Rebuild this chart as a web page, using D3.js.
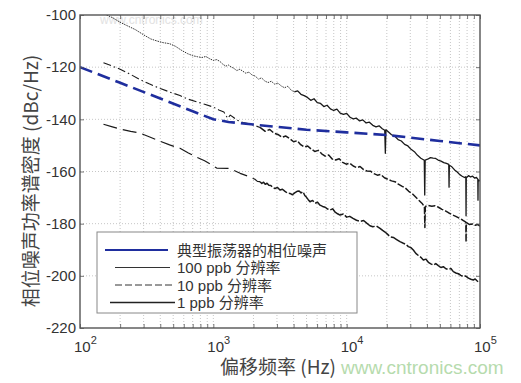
<!DOCTYPE html>
<html><head><meta charset="utf-8">
<script src="https://cdn.jsdelivr.net/npm/d3@7"></script>
<style>body{margin:0;background:#fff;} svg{display:block;}</style>
</head><body><svg id="c" width="521" height="383"></svg>
<script>
// ---- data ----
const xTickValues = [100, 1000, 10000, 100000];
const xTickExponents = ["2", "3", "4", "5"];
const yTickValues = [-100, -120, -140, -160, -180, -200, -220];
const seriesNames = ["典型振荡器的相位噪声", "100 ppb 分辨率", "10 ppb 分辨率", "1 ppb 分辨率"];
const xAxisTitle = "偏移频率 (Hz)";
const yAxisTitle = "相位噪声功率谱密度 (dBc/Hz)";

const oscFreq = [100, 200, 400, 700, 1000, 1300, 2000, 5000, 10000, 20000, 50000, 100000];
const oscVal  = [-120, -126, -132, -136.9, -140, -141, -142, -144, -145, -146, -148.3, -150];

const ppb100Freq = [158,175,200,230,260,300,340,380,420,470,520,580,640,700,760,820,880,940,1000,1060,1120,1180,1240,1300,1360,1420,1500,1580,1660,1750,1850,1950,2060,2180,2300,2430,2570,2720,2880,3050,3230,3420,3620,3830,4050,4290,4540,4800,5080,5380,5690,6020,6370,6740,7130,7550,7990,8450,8940,9460,10000,10600,11200,11800,12500,13200,14000,14800,15700,16600,17500,18500,19300,19500,19700,20500,21700,23000,24300,25700,27200,28800,30400,32200,34000,36000,38200,38500,38800,40500,42500,44500,46500,48500,51000,53500,56000,58300,58600,58900,61500,64500,67500,70500,73500,76500,78300,78600,78900,82000,85000,88000,91000,94000,96300,96600,96900,100000];
const ppb100Val  = [-100,-101,-102.8,-104.3,-105.6,-107.6,-109.2,-110,-110.6,-111,-112,-113.6,-114.8,-115.6,-116,-116.3,-115.9,-116.8,-117.4,-117.1,-117.8,-118.9,-119.6,-119.2,-119.9,-120.4,-121.3,-120.8,-121.5,-122.3,-121.9,-123,-123.4,-124.6,-124.1,-125.3,-125.9,-125.4,-126.5,-126.1,-127.2,-127.9,-127.3,-128.8,-129.5,-129.1,-130.4,-130.9,-131.6,-132.7,-132.1,-133.6,-133.9,-135.1,-134.6,-136,-136.6,-136.1,-137.6,-138.1,-137.7,-139.2,-139.8,-139.5,-140.6,-140.2,-141.4,-141.1,-142.3,-142.9,-142.5,-143.6,-144.2,-153,-144,-144.8,-145.9,-146.5,-147.8,-148.3,-149.6,-150.2,-151.5,-152.4,-153.8,-154.9,-155.7,-169,-155.6,-155.3,-154.7,-154.9,-155,-155.6,-156,-156.6,-156.9,-157.3,-166,-157.6,-158.2,-159.4,-160.2,-161.2,-161.8,-162.3,-162,-177,-162.4,-161.6,-162.1,-161.8,-162.5,-162.3,-162.9,-171,-163.2,-163.6];

const ppb10Freq = [150,175,200,240,282,330,400,470,562,650,750,860,1000,1100,1200,1280,1340,1420,1520,1670,1820,2000,2240,2450,2650,2850,3050,3280,3500,3760,4000,4250,4520,4800,5100,5420,5760,6120,6500,6900,7330,7790,8270,8790,9340,9920,10540,11200,11900,12600,13400,14200,15100,16000,17000,18000,19200,20400,21700,23000,24400,25900,27500,29200,31000,32900,34900,37000,38300,38600,38900,41000,43500,46000,48800,51800,55000,58400,62000,65800,69800,74000,78300,78600,78900,83000,87500,92000,96000,100000];
const ppb10Val  = [-118.3,-119.6,-120.8,-122.8,-124.8,-126.4,-128.2,-129.5,-130.9,-132.3,-133.3,-134.2,-135.3,-136.4,-137.2,-139.6,-138.4,-139.3,-140.4,-141.2,-141.6,-142.2,-143.1,-144.6,-143.9,-145.3,-145.8,-146.9,-146.4,-147.5,-148.6,-148.2,-149.7,-150.6,-150.2,-151.4,-152.3,-151.9,-153.2,-154.1,-153.7,-155.2,-155.6,-155.1,-156.5,-157.2,-156.8,-157.9,-158.5,-158.1,-159.3,-159.8,-159.9,-160.8,-161.4,-161.1,-162.4,-163,-163.6,-163.9,-164.8,-165.6,-166.3,-167.6,-168.5,-169.8,-171.1,-172.4,-173.5,-181.5,-173.4,-173,-173.3,-173.1,-173.7,-174.5,-175.1,-175.9,-176.6,-177.2,-177.9,-178.6,-179.4,-187,-179.6,-180.3,-180.1,-180.6,-180.3,-180.9];

const ppb1Freq = [150,175,200,240,282,330,400,470,562,650,750,860,960,1060,1290,1400,1500,1590,1750,1900,2050,2140,2240,2310,2380,2450,2527,2610,2700,2800,2900,3030,3162,3300,3450,3600,3758,3920,4100,4250,4400,4550,4705,4850,5000,5150,5309,5550,5800,6050,6310,6600,6900,7200,7499,7850,8200,8550,8913,9450,10000,10550,11156,11850,12600,13400,14212,14950,15700,16700,17783,18600,19400,20300,21135,22400,23700,25100,26607,27800,29000,30300,31623,33000,34500,36000,37584,39300,41000,42800,44668,46600,48700,50900,53088,55500,57900,60500,63096,65900,68800,71800,74989,78300,81800,85400,89125,92000,94500,97200,100000];
const ppb1Val  = [-141.9,-142.9,-143.7,-144.6,-145.3,-146.7,-148.4,-149.8,-151.1,-152.9,-154.5,-155.9,-157.3,-158.7,-158.8,-159.4,-160.1,-160.7,-161.5,-162.2,-163,-163.8,-163.9,-164.6,-164.1,-164.9,-164.5,-165.3,-165.4,-166.2,-166.5,-166.1,-167.1,-166.8,-167.6,-168.3,-168.4,-168.9,-168.1,-167.6,-167.5,-168.2,-167.7,-169.2,-169.9,-170.8,-171.6,-171.1,-172.2,-171.8,-172.9,-173.4,-173.7,-174.4,-174.8,-174.3,-175.6,-176.2,-176.7,-176.3,-177.5,-177.2,-178,-178.7,-179.1,-178.8,-179.9,-180.8,-181.2,-180.9,-181.8,-182.6,-183.2,-184.1,-185,-185.3,-186.1,-186.9,-187.5,-187.9,-188.8,-189.2,-190.1,-191.4,-192.2,-192.9,-193.9,-193.6,-194.8,-195.4,-195.9,-195.3,-196.1,-196.8,-196.5,-197.3,-197.6,-197.2,-198.4,-198.9,-199.2,-199.8,-200.3,-200.1,-200.9,-201.3,-201.6,-201.2,-201.8,-202.4,-202.3];

// ---- drawing ----
(function () {
const svg = d3.select("#c");
const L = 80, R = 480, T = 15, B = 328;
const x = d3.scaleLog().domain([100, 100000]).range([L, R]);
const y = d3.scaleLinear().domain([-220, -100]).range([B, T]);

svg.append("rect").attr("width", 521).attr("height", 383).attr("fill", "#fff");

// faint watermark top
svg.append("text").attr("x", 100).attr("y", 24).attr("font-family", "Liberation Sans, Arial").attr("font-size", 12)
  .attr("fill", "#e2e2e2").text("www.cntronics.com");

const grid = svg.append("g");
grid.selectAll("line.v").data(x.ticks().filter(d => d > 100 && d < 100000)).join("line")
  .attr("x1", d => x(d)).attr("x2", d => x(d)).attr("y1", T).attr("y2", B)
  .attr("stroke", "#b8b8b8").attr("stroke-width", 0.8).attr("stroke-dasharray", "1,2");
grid.selectAll("line.h").data(yTickValues.filter(d => d > -220 && d < -100)).join("line")
  .attr("x1", L).attr("x2", R).attr("y1", d => y(d)).attr("y2", d => y(d))
  .attr("stroke", "#b8b8b8").attr("stroke-width", 0.8).attr("stroke-dasharray", "1,2");

svg.append("clipPath").attr("id", "clip").append("rect").attr("x", L).attr("y", T).attr("width", R - L).attr("height", B - T);
const plot = svg.append("g").attr("clip-path", "url(#clip)");

const line = d3.line().x(d => x(d[0])).y(d => y(d[1]));
function zipS(f, v) { return f.map((d, i) => [d, v[i]]); }
function draw(data, col, w, dash) {
  plot.append("path").datum(data).attr("d", line).attr("fill", "none")
    .attr("stroke", col).attr("stroke-width", w).attr("stroke-dasharray", dash)
    .attr("stroke-linejoin", "round");
}
const s100 = zipS(ppb100Freq, ppb100Val);
const s10 = zipS(ppb10Freq, ppb10Val);
const s1 = zipS(ppb1Freq, ppb1Val);

draw(s100.filter(d => d[0] <= 4100), "#1a1a1a", 0.9, "1.5,1");
draw(s100.filter(d => d[0] >= 4000), "#1a1a1a", 1.3, null);
draw(s10.filter(d => d[0] <= 2300), "#1a1a1a", 1.1, "8,3,1.5,3");
draw(s10.filter(d => d[0] >= 2240), "#1a1a1a", 1.5, "7,2");
draw(s1.filter(d => d[0] <= 2300), "#1a1a1a", 1.2, "14,6");
draw(s1.filter(d => d[0] >= 2240), "#1a1a1a", 1.5, "16,2");
draw(zipS(oscFreq, oscVal), "#1f2e9e", 2.6, "13,6");

// axes frame and ticks
const axCol = "#555";
const gB = svg.append("g").attr("transform", `translate(0,${B})`)
  .call(d3.axisBottom(x).tickValues(x.ticks()).tickSize(-4).tickFormat(""));
const gT = svg.append("g").attr("transform", `translate(0,${T})`)
  .call(d3.axisTop(x).tickValues(x.ticks()).tickSize(-4).tickFormat(""));
const gL = svg.append("g").attr("transform", `translate(${L},0)`)
  .call(d3.axisLeft(y).tickValues(yTickValues).tickSize(-4).tickPadding(8).tickFormat(d => d));
const gR = svg.append("g").attr("transform", `translate(${R},0)`)
  .call(d3.axisRight(y).tickValues(yTickValues).tickSize(-4).tickFormat(""));
[gB, gT, gL, gR].forEach(g => {
  g.select(".domain").remove();
  g.selectAll(".tick line").attr("stroke", axCol).attr("stroke-width", 0.8);
});
gL.selectAll(".tick text").attr("font-family", "Liberation Sans, Arial").attr("font-size", 15)
  .attr("fill", "#333").attr("x", -4);
svg.append("rect").attr("x", L).attr("y", T).attr("width", R - L).attr("height", B - T)
  .attr("fill", "none").attr("stroke", axCol).attr("stroke-width", 1.4);

// x tick labels with superscripts
const xl = svg.append("g").attr("font-family", "Liberation Sans, Arial").attr("fill", "#333");
xTickValues.forEach((v, i) => {
  const t = xl.append("text").attr("x", x(v) - 6).attr("y", 352).attr("font-size", 15);
  t.append("tspan").text("10");
  t.append("tspan").attr("dy", -8).attr("font-size", 11).text(xTickExponents[i]);
});

// axis titles
svg.append("text").attr("x", 220).attr("y", 374).attr("font-size", 19)
  .attr("font-family", "Noto Sans CJK SC, Liberation Sans").attr("fill", "#444").text(xAxisTitle);
svg.append("text").attr("transform", "translate(38,181) rotate(-90)").attr("text-anchor", "middle")
  .attr("font-size", 19).attr("font-family", "Noto Sans CJK SC, Liberation Sans").attr("fill", "#444").text(yAxisTitle);

// watermark bottom
svg.append("text").attr("x", 341).attr("y", 374).attr("font-size", 19)
  .attr("font-family", "Liberation Sans, Arial").attr("fill", "#b6dbad").text("www.cntronics.com");

// legend
const lg = svg.append("g");
lg.append("rect").attr("x", 97).attr("y", 232).attr("width", 260).attr("height", 81)
  .attr("fill", "#fff").attr("stroke", "#888").attr("stroke-width", 1);
const legRows = [250, 267.5, 285, 302.5];
const legStyles = [
  { c: "#1f2e9e", w: 2, d: null, x1: 105, x2: 168 },
  { c: "#333", w: 1, d: null, x1: 115, x2: 170 },
  { c: "#333", w: 1, d: "7,3", x1: 115, x2: 173 },
  { c: "#222", w: 1.3, d: null, x1: 110, x2: 175 }
];
seriesNames.forEach((n, i) => {
  const s = legStyles[i];
  lg.append("line").attr("x1", s.x1).attr("x2", s.x2).attr("y1", legRows[i]).attr("y2", legRows[i])
    .attr("stroke", s.c).attr("stroke-width", s.w).attr("stroke-dasharray", s.d);
  lg.append("text").attr("x", 177).attr("y", legRows[i] + 5.5).attr("font-size", 15)
    .attr("font-family", "Liberation Sans, Noto Sans CJK SC").attr("fill", "#333").text(n);
});
})();
</script></body></html>
